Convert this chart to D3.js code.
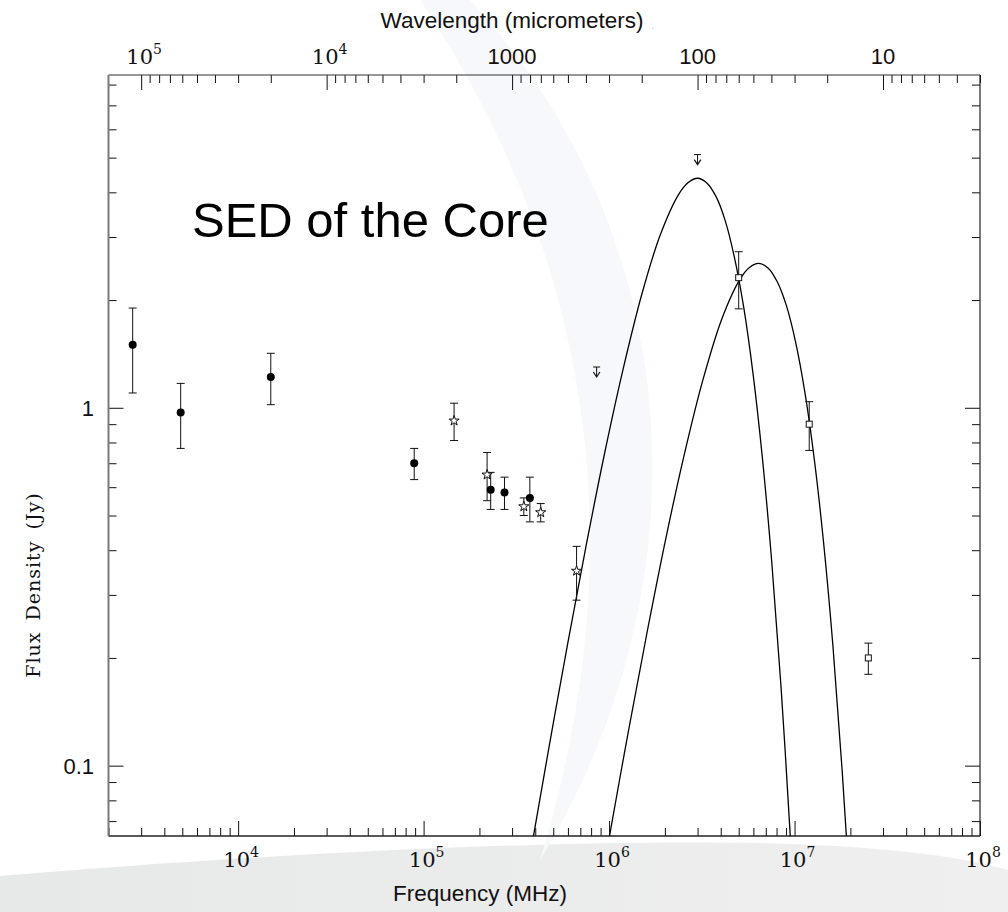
<!DOCTYPE html>
<html><head><meta charset="utf-8">
<script src="https://cdn.jsdelivr.net/npm/d3@7"></script>
<style>
html,body{margin:0;padding:0;background:#fff;}
svg{display:block;}
</style></head><body>
<svg id="chart" width="1008" height="912"></svg>
<script>
// Radio continuum points: frequency (MHz), flux density (Jy), 1-sigma error (Jy)
const radioFreq = [2700, 4900, 15000, 89000, 230000, 273000, 374000];
const radioFlux = [1.50, 0.97, 1.22, 0.70, 0.59, 0.58, 0.56];
const radioErr  = [0.40, 0.20, 0.20, 0.07, 0.07, 0.06, 0.08];

// Millimetre / submillimetre points
const mmFreq = [146000, 220000, 347000, 428000, 668000];
const mmFlux = [0.92, 0.65, 0.53, 0.51, 0.35];
const mmErr  = [0.11, 0.10, 0.03, 0.03, 0.06];

// Infrared points
const irFreq = [5.0e6, 1.2e7, 2.5e7];
const irFlux = [2.31, 0.90, 0.20];
const irErr  = [0.42, 0.14, 0.02];

// Upper limits
const limitFreq = [857000, 3.0e6];
const limitFlux = [1.30, 5.10];

// Cold dust component
const coldFreq = [3.80e5, 4.75e5, 5.98e5, 7.53e5, 9.48e5, 1.194e6, 1.503e6, 1.892e6, 2.382e6, 2.673e6, 3.0e6, 3.365e6, 3.776e6, 4.236e6, 4.75e6, 5.333e6, 5.98e6, 6.71e6, 7.53e6, 8.45e6, 9.48e6, 1.0e7];
const coldFlux = [0.0583, 0.113, 0.219, 0.413, 0.750, 1.291, 2.08, 3.05, 3.96, 4.26, 4.38, 4.25, 3.89, 3.324, 2.62, 1.895, 1.24, 0.724, 0.373, 0.167, 0.0638, 0.0386];

// Warm dust component
const warmFreq = [8.65e5, 1.016e6, 1.279e6, 1.611e6, 2.028e6, 2.553e6, 3.214e6, 4.046e6, 5.093e6, 5.715e6, 6.412e6, 7.194e6, 8.07e6, 9.057e6, 1.016e7, 1.140e7, 1.279e7, 1.435e7, 1.611e7, 1.807e7, 2.028e7];
const warmFlux = [0.0406, 0.0655, 0.127, 0.239, 0.434, 0.746, 1.202, 1.766, 2.291, 2.466, 2.531, 2.46, 2.249, 1.923, 1.517, 1.096, 0.716, 0.419, 0.216, 0.0966, 0.0369];

// Axis ranges and labelled ticks
const freqDomain = [2000, 1e8];
const fluxDomain = [0.0636, 8.51];
const freqTicks = [1e4, 1e5, 1e6, 1e7, 1e8];
const waveTicks = [1e5, 1e4, 1000, 100, 10];
const fluxTicks = [1, 0.1];

const svg = d3.select("#chart");
const W = 1008, H = 912;
const L = 108.5, R = 980, T = 75, B = 836;

// ---- background decoration ----
const defs = svg.append("defs");
const grad = defs.append("linearGradient").attr("id", "floor").attr("x1", "0").attr("x2", "1").attr("y1", "0").attr("y2", "0");
grad.append("stop").attr("offset", "0").attr("stop-color", "#e7e8e8");
grad.append("stop").attr("offset", "1").attr("stop-color", "#efefef");
defs.append("clipPath").attr("id", "plotClip").append("rect")
  .attr("x", L).attr("y", T).attr("width", R - L).attr("height", B - T);

svg.append("rect").attr("width", W).attr("height", H).attr("fill", "#fff");
svg.append("path")
  .attr("d", "M0,876 C250,855 550,839 760,843 C880,846 960,856 1008,870 L1008,912 L0,912 Z")
  .attr("fill", "url(#floor)");
svg.append("path")
  .attr("d", "M470,0 C700,250 700,600 540,860 C620,600 620,300 420,0 Z")
  .attr("fill", "#f7f8fb");

// ---- scales ----
const x = d3.scaleLog().domain(freqDomain).range([L, R]);
const y = d3.scaleLog().domain(fluxDomain).range([B, T]);
// wavelength in micrometres = 3e8 / frequency in MHz
const xw = d3.scaleLog().domain(freqDomain.map(f => 3e8 / f)).range([L, R]);

const majorLen = 15, minorLen = 8;
const isMajor = v => Math.abs(Math.log10(v) - Math.round(Math.log10(v))) < 1e-6;

function tickAxis(axisFn, scale, values, len, transform) {
  const g = svg.append("g").attr("transform", transform)
    .call(axisFn(scale).tickValues(values).tickSize(-len).tickSizeOuter(0).tickFormat(""));
  g.select(".domain").remove();
  g.selectAll(".tick line").attr("stroke", "#111").attr("stroke-width", 1);
  return g;
}

const fMinor = x.ticks().filter(v => !isMajor(v));
const wMinor = xw.ticks().filter(v => !isMajor(v));
const yMinor = y.ticks().filter(v => !isMajor(v));

tickAxis(d3.axisBottom, x, fMinor, minorLen, `translate(0,${B})`);
tickAxis(d3.axisBottom, x, freqTicks, majorLen, `translate(0,${B})`);
tickAxis(d3.axisTop, xw, wMinor, minorLen, `translate(0,${T})`);
tickAxis(d3.axisTop, xw, waveTicks, majorLen, `translate(0,${T})`);
tickAxis(d3.axisLeft, y, yMinor, minorLen, `translate(${L},0)`);
tickAxis(d3.axisLeft, y, fluxTicks, majorLen, `translate(${L},0)`);
tickAxis(d3.axisRight, y, yMinor, minorLen, `translate(${R},0)`);
tickAxis(d3.axisRight, y, fluxTicks, majorLen, `translate(${R},0)`);

// ---- frame ----
svg.append("line").attr("x1", L).attr("x2", R).attr("y1", T).attr("y2", T).attr("stroke", "#333").attr("stroke-width", 1.2);
svg.append("line").attr("x1", R).attr("x2", R).attr("y1", T).attr("y2", B).attr("stroke", "#222").attr("stroke-width", 1.2);
svg.append("line").attr("x1", L).attr("x2", R).attr("y1", B).attr("y2", B).attr("stroke", "#222").attr("stroke-width", 1.5);
svg.append("line").attr("x1", L).attr("x2", L).attr("y1", T).attr("y2", B).attr("stroke", "#7a7a7a").attr("stroke-width", 2);

// ---- tick labels ----
const serif = "'DejaVu Serif','Liberation Serif',serif";
const sans = "'Liberation Sans',Arial,Helvetica,sans-serif";

function powerLabel(px, py, value) {
  const e = Math.round(Math.log10(value));
  const t = svg.append("text").attr("x", px).attr("y", py).attr("text-anchor", "middle")
    .style("font-family", serif).style("font-size", "21px").attr("fill", "#111");
  t.append("tspan").text("10");
  t.append("tspan").attr("dy", -10).style("font-size", "14px").text(e);
}

freqTicks.forEach(v => powerLabel(x(v) + 3, B + 31, v));
waveTicks.forEach(v => {
  if (v >= 1e4) powerLabel(xw(v) + 3, 64, v);
  else svg.append("text").attr("x", xw(v)).attr("y", 64).attr("text-anchor", "middle")
    .style("font-family", sans).style("font-size", "22px").attr("fill", "#111").text(d3.format("d")(v));
});
fluxTicks.forEach(v => {
  svg.append("text").attr("x", 94).attr("y", y(v) + 8).attr("text-anchor", "end")
    .style("font-family", sans).style("font-size", "22px").attr("fill", "#111").text(v);
});

// ---- axis titles ----
svg.append("text").attr("x", 512).attr("y", 28).attr("text-anchor", "middle")
  .style("font-family", sans).style("font-size", "22.5px").attr("fill", "#111").text("Wavelength (micrometers)");
svg.append("text").attr("x", 651).attr("y", 29).style("font-family", sans).style("font-size", "12px")
  .attr("fill", "#c8c8c8").text(".");
svg.append("text").attr("x", 480).attr("y", 901).attr("text-anchor", "middle")
  .style("font-family", sans).style("font-size", "22.5px").attr("fill", "#111").text("Frequency (MHz)");
svg.append("text").attr("transform", "translate(40,585) rotate(-90)").attr("text-anchor", "middle")
  .style("font-family", serif).style("font-size", "19px").style("letter-spacing", "1px").style("word-spacing", "4px")
  .attr("fill", "#111").text("Flux Density (Jy)");

svg.append("text").attr("x", 192).attr("y", 237)
  .style("font-family", sans).style("font-size", "49px").attr("fill", "#000").text("SED of the Core");

// ---- model curves ----
const line = d3.line().x(d => x(d[0])).y(d => y(d[1])).curve(d3.curveCatmullRom.alpha(0.5));
const curves = svg.append("g").attr("clip-path", "url(#plotClip)");
[[coldFreq, coldFlux], [warmFreq, warmFlux]].forEach(([fs, ss]) => {
  curves.append("path").datum(d3.zip(fs, ss)).attr("d", line)
    .attr("fill", "none").attr("stroke", "#000").attr("stroke-width", 1.3);
});

// ---- error bars ----
const marks = svg.append("g");
function errorBars(fs, ss, es) {
  fs.forEach((f, i) => {
    const cx = x(f), y0 = y(ss[i] + es[i]), y1 = y(ss[i] - es[i]);
    marks.append("line").attr("x1", cx).attr("x2", cx).attr("y1", y0).attr("y2", y1).attr("stroke", "#111");
    [y0, y1].forEach(cy => marks.append("line").attr("x1", cx - 4).attr("x2", cx + 4)
      .attr("y1", cy).attr("y2", cy).attr("stroke", "#111"));
  });
}
errorBars(radioFreq, radioFlux, radioErr);
errorBars(mmFreq, mmFlux, mmErr);
errorBars(irFreq, irFlux, irErr);

// ---- symbols ----
radioFreq.forEach((f, i) => marks.append("circle").attr("cx", x(f)).attr("cy", y(radioFlux[i])).attr("r", 4).attr("fill", "#000"));

const star = d3.symbol().type(d3.symbolStar).size(32);
mmFreq.forEach((f, i) => marks.append("path").attr("d", star)
  .attr("transform", `translate(${x(f)},${y(mmFlux[i])})`)
  .attr("fill", "#fff").attr("stroke", "#111").attr("stroke-width", 1));

irFreq.forEach((f, i) => marks.append("rect").attr("x", x(f) - 3).attr("y", y(irFlux[i]) - 3)
  .attr("width", 6).attr("height", 6).attr("fill", "#fff").attr("stroke", "#111").attr("stroke-width", 1));

limitFreq.forEach((f, i) => {
  const cx = x(f), cy = y(limitFlux[i]);
  marks.append("line").attr("x1", cx - 3.5).attr("x2", cx + 3.5).attr("y1", cy).attr("y2", cy).attr("stroke", "#111");
  marks.append("line").attr("x1", cx).attr("x2", cx).attr("y1", cy).attr("y2", cy + 9.5).attr("stroke", "#111");
  marks.append("path").attr("d", `M${cx - 3.3},${cy + 5} L${cx},${cy + 10} L${cx + 3.3},${cy + 5}`)
    .attr("fill", "none").attr("stroke", "#111").attr("stroke-width", 1.2);
});
</script>
</body></html>
